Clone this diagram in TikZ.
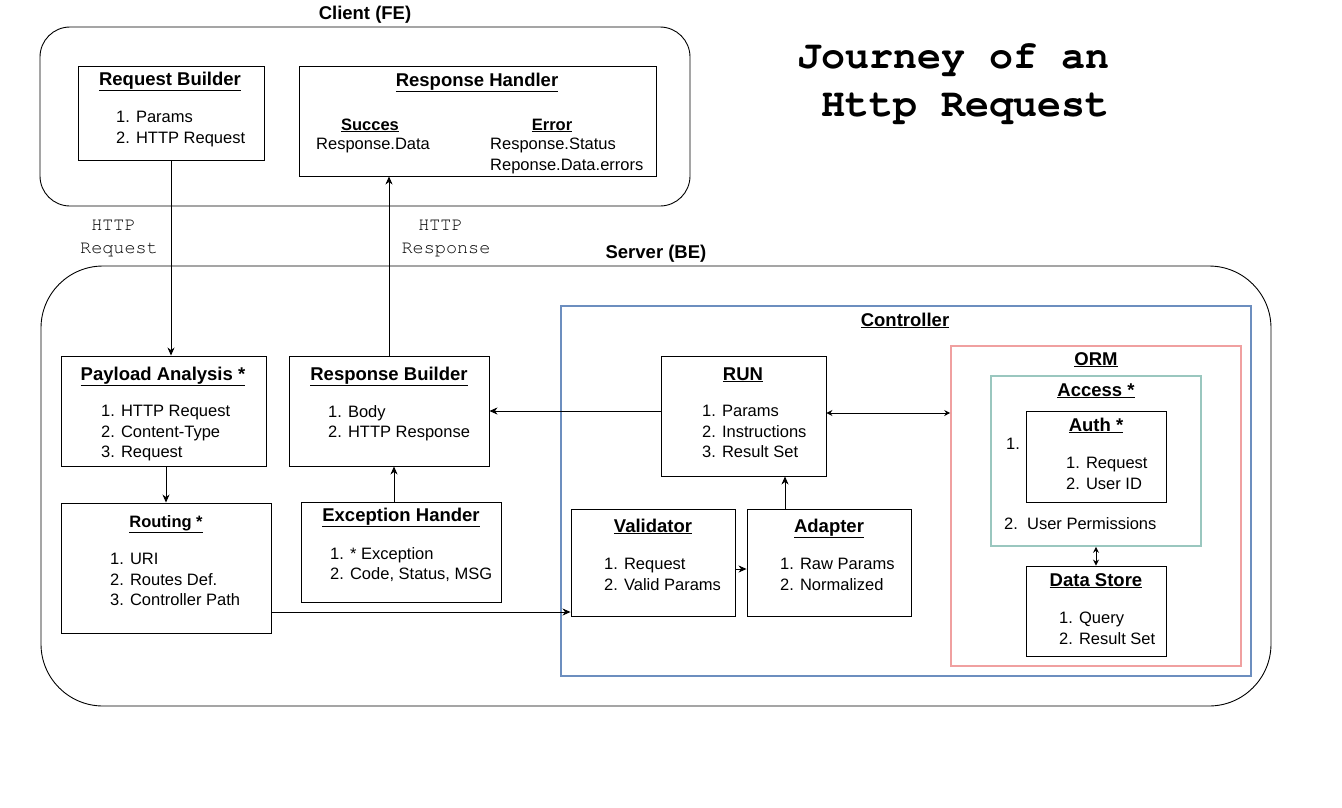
\documentclass[tikz,border=0pt]{standalone}
\usepackage{fontspec}
\setmainfont{Liberation Sans}
\newfontfamily\courierfont{texgyrecursor}[Extension=.otf,UprightFont=*-regular,BoldFont=*-bold]
\usetikzlibrary{arrows.meta,calc}

\definecolor{ctrlblue}{HTML}{6C8EBF}
\definecolor{ormpink}{HTML}{F0A0A0}
\definecolor{accteal}{HTML}{9AC7BF}

\newcommand{\bodyfont}{\fontsize{16.5}{20.5}\selectfont}
\newcommand{\headfont}{\fontsize{18.5}{22}\selectfont\bfseries}
\newcommand{\monolbl}{\courierfont\fontsize{18.5}{23}\selectfont}

\begin{document}
\begin{tikzpicture}[x=1pt,y=-1pt,
    box/.style={draw,line width=0.9pt,inner sep=0pt},
    head/.style={font=\headfont,anchor=base,inner sep=0pt},
    subhead/.style={font=\bodyfont\bfseries,anchor=base,inner sep=0pt},
    lst/.style={font=\bodyfont,align=left,anchor=north west,inner sep=0pt},
    arr/.style={-{Stealth[length=8pt,width=7pt,inset=2.5pt]},line width=0.9pt},
    dblarr/.style={{Stealth[length=6pt,width=6pt,inset=2pt]}-{Stealth[length=6pt,width=6pt,inset=2pt]},line width=0.9pt}]

    \useasboundingbox (0,0) rectangle (1342,807);

    % containers
    \node (client) at (365,116.5) [box,rounded corners=30pt,minimum width=650,minimum height=179] {};
    \node (server) at (656,486) [box,rounded corners=62pt,minimum width=1230,minimum height=440] {};
    \node (ctrl) at (906,491) [box,draw=ctrlblue,line width=1.6pt,minimum width=690,minimum height=370] {};
    \node (orm) at (1096,506) [box,draw=ormpink,line width=1.6pt,minimum width=290,minimum height=320] {};
    \node (access) at (1096,461) [box,draw=accteal,line width=1.6pt,minimum width=210,minimum height=170] {};

    \node (clientt) at (365,19) [head] {Client (FE)};
    \node (servert) at (656,258) [head] {Server (BE)};
    \node (ctrlt) at (905,326) [head] {\underline{Controller}};
    \node (ormt) at (1096,365) [head] {\underline{ORM}};
    \node (accesst) at (1096,396) [head] {\underline{Access *}};

    % title
    \node (jtitle) at (1110,43) [anchor=north east,align=right,inner sep=0pt,
        font=\courierfont\bfseries\fontsize{40}{48}\selectfont] {Journey of an\\Http Request};

    % client boxes
    \node (reqb) at (171,113) [box,minimum width=186,minimum height=94] {};
    \node (reqbt) at (170,85) [head] {\underline{Request Builder}};
    \node (reqbl) at (116,111) [lst] {1. Params\\2. HTTP Request};

    \node (resh) at (477.5,121) [box,minimum width=357,minimum height=110] {};
    \node (resht) at (477,86) [head] {\underline{Response Handler}};
    \node (succt) at (370,130) [subhead] {\underline{Succes}};
    \node (succl) at (316,138) [lst] {Response.Data};
    \node (errt) at (552,130) [subhead] {\underline{Error}};
    \node (errl) at (490,138) [lst] {Response.Status\\Reponse.Data.errors};

    % server boxes
    \node (payl) at (163.5,411) [box,minimum width=205,minimum height=110] {};
    \node (paylt) at (163,380) [head] {\underline{Payload Analysis *}};
    \node (payll) at (101,405) [lst] {1. HTTP Request\\2. Content-Type\\3. Request};

    \node (resb) at (389,411) [box,minimum width=200,minimum height=110] {};
    \node (resbt) at (389,380) [head] {\underline{Response Builder}};
    \node (resbl) at (328,405) [lst] {1. Body\\2. HTTP Response};

    \node (rout) at (166,568) [box,minimum width=210,minimum height=130] {};
    \node (routt) at (166,527) [subhead] {\underline{Routing *}};
    \node (routl) at (110,553) [lst] {1. URI\\2. Routes Def.\\3. Controller Path};

    \node (exch) at (401,552) [box,minimum width=200,minimum height=100] {};
    \node (excht) at (401,521) [head] {\underline{Exception Hander}};
    \node (exchl) at (330,547) [lst] {1. * Exception\\2. Code, Status, MSG};

    \node (run) at (743.5,416) [box,minimum width=165,minimum height=120] {};
    \node (runt) at (743,380) [head] {\underline{RUN}};
    \node (runl) at (702,405) [lst] {1. Params\\2. Instructions\\3. Result Set};

    \node (vali) at (653,562.5) [box,minimum width=164,minimum height=107] {};
    \node (valit) at (653,532) [head] {\underline{Validator}};
    \node (valil) at (604,558) [lst] {1. Request\\2. Valid Params};

    \node (adap) at (829,562.5) [box,minimum width=164,minimum height=107] {};
    \node (adapt) at (829,532) [head] {\underline{Adapter}};
    \node (adapl) at (780,558) [lst] {1. Raw Params\\2. Normalized};

    \node (auth) at (1096,456.5) [box,minimum width=140,minimum height=91] {};
    \node (autht) at (1096,431) [head] {\underline{Auth *}};
    \node (authl) at (1066,457) [lst] {1. Request\\2. User ID};
    \node (acc1) at (1006,449) [font=\bodyfont,anchor=base west,inner sep=0pt] {1.};
    \node (acc2) at (1004,529) [font=\bodyfont,anchor=base west,inner sep=0pt] {2.~~User Permissions};

    \node (dstore) at (1096,611) [box,minimum width=140,minimum height=90] {};
    \node (dstoret) at (1096,586) [head] {\underline{Data Store}};
    \node (dstorel) at (1059,612) [lst] {1. Query\\2. Result Set};

    % labels
    \node (httpreq) at (119,239) [font=\monolbl,align=center,inner sep=0pt] {HTTP\hphantom{x}\\Request};
    \node (httpres) at (446,239) [font=\monolbl,align=center,inner sep=0pt] {HTTP\hphantom{x}\\Response};

    % connectors
    \draw[arr] (reqb.south) -- (reqb.south |- payl.north);
    \draw[arr] (resb.north) -- (resb.north |- resh.south);
    \draw[arr] (rout.north |- payl.south) -- (rout.north);
    \coordinate (exchn) at ($(exch.north)+(-7,0)$);
    \draw[arr] (exchn) -- (exchn |- resb.south);
    \draw[arr] (run.west |- resb.east) -- (resb.east);
    \coordinate (runr) at ($(run.east)+(0,-3)$);
    \draw[dblarr] (runr) -- (runr -| orm.west);
    \coordinate (valir) at ($(vali.east)+(0,6.5)$);
    \draw[arr] (valir) -- (valir -| adap.west);
    \coordinate (adapn) at ($(adap.north)+(-44,0)$);
    \draw[arr] (adapn) -- (adapn |- run.south);
    \coordinate (routr) at ($(rout.east)+(0,44)$);
    \draw[arr] (routr) -- (routr -| vali.west);
    \draw[dblarr] (access.south) -- (dstore.north);
\end{tikzpicture}
\end{document}
